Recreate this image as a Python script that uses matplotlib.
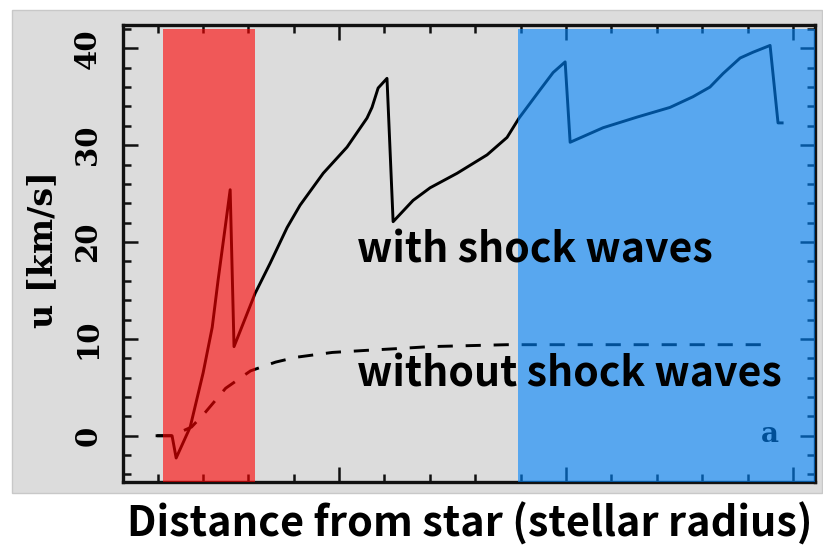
import matplotlib

matplotlib.use("Agg")
import matplotlib.pyplot as plt
from matplotlib.patches import Rectangle
from matplotlib.ticker import MultipleLocator

# 衝撃波ありの速度 (km/s)
shock_x = [1.198, 1.264, 1.282, 1.344, 1.401, 1.441, 1.467, 1.498, 1.520,
           1.537, 1.630, 1.696, 1.771, 1.828, 1.930, 2.035, 2.123, 2.145,
           2.172, 2.211, 2.238, 2.326, 2.401, 2.520, 2.652, 2.740, 2.793,
           2.885, 2.943, 2.996, 3.018, 3.163, 3.313, 3.458, 3.559, 3.634,
           3.692, 3.767, 3.824, 3.899, 3.934, 3.952]
shock_u = [0.0, 0.0, -2.3, 0.9, 6.5, 11.2, 16.1, 21.5, 25.4,
           9.2, 14.7, 17.8, 21.5, 23.8, 27.1, 29.8, 32.8, 33.9,
           35.9, 36.9, 22.1, 24.3, 25.6, 27.1, 29.0, 30.8, 32.8,
           35.7, 37.5, 38.6, 30.3, 31.8, 32.9, 33.9, 35.0, 36.0,
           37.4, 39.0, 39.6, 40.3, 32.3, 32.3]

# 衝撃波なしの速度 (km/s)
calm_x = [1.198, 1.264, 1.35, 1.41, 1.50, 1.61, 1.72, 1.81, 1.97, 2.11,
          2.26, 2.40, 2.74, 3.87]
calm_u = [0.0, 0.0, 0.9, 2.4, 4.9, 6.7, 7.6, 8.1, 8.6, 8.8,
          9.0, 9.2, 9.4, 9.4]

# 強調する領域 (stellar radius)
red_zone = (1.225, 1.630)
blue_zone = (2.79, 4.097)

yticks = [0, 10, 20, 30, 40]

fig = plt.figure(figsize=(8.23, 5.48), dpi=100, facecolor="white")
# 元画像のグレーの枠
frame = Rectangle((0.0146, 0.1004), 0.984, 0.881,
                  transform=fig.transFigure, facecolor="#dcdcdc",
                  edgecolor="#c8c8c8", linewidth=1.0, zorder=-10)
fig.add_artist(frame)

ax = fig.add_axes([0.1495, 0.1204, 0.8408, 0.834])
ax.set_facecolor("#dcdcdc")

ax.plot(shock_x, shock_u, color="black", linewidth=2.1, zorder=2,
        solid_joinstyle="round")
ax.plot(calm_x, calm_u, color="black", linewidth=2.1,
        linestyle=(0, (5.2, 4.4)), zorder=2)
ax.text(3.90, -0.6, "a", fontsize=20, family="DejaVu Serif",
        fontweight="bold", ha="center", va="baseline", color="black",
        zorder=2)

# 色付きの帯 (下の線が暗く透けるように半透明で上に重ねる)
ax.fill_between(red_zone, -4.78, 42.0, color="#ff0000", alpha=0.6,
                linewidth=0, zorder=3)
ax.fill_between(blue_zone, -4.78, 42.0, color="#0085fd", alpha=0.6,
                linewidth=0, zorder=3)

ax.set_xlim(1.048, 4.097)
ax.set_ylim(-4.78, 42.41)
ax.xaxis.set_major_locator(MultipleLocator(1.0))
ax.xaxis.set_minor_locator(MultipleLocator(0.2))
ax.set_yticks(yticks)
ax.yaxis.set_minor_locator(MultipleLocator(2))
ax.tick_params(which="both", direction="in", top=True, right=True,
               color="#111111", width=1.8)
ax.tick_params(which="major", length=11)
ax.tick_params(which="minor", length=5.5)
ax.tick_params(axis="x", labelbottom=False)
ax.tick_params(axis="y", labelrotation=90, labelsize=21, pad=15)
for lab in ax.get_yticklabels():
    lab.set_family("DejaVu Serif")
    lab.set_fontweight("bold")
    lab.set_va("center")
for sp in ax.spines.values():
    sp.set_linewidth(2.4)
    sp.set_color("#111111")

jp = ["Noto Sans CJK JP", "DejaVu Sans"]
ax.text(2.079, 17.9, "with shock waves", fontsize=29.5, fontweight="bold",
        family=jp, ha="left", va="baseline", zorder=5)
ax.text(2.079, 5.1, "without shock waves", fontsize=29.5, fontweight="bold",
        family=jp, ha="left", va="baseline", zorder=5)

fig.text(0.052, 0.544, "u [km/s]", rotation=90, fontsize=24,
         family="DejaVu Serif", fontweight="bold", ha="center", va="center")
fig.text(0.571, 0.02, "Distance from star (stellar radius)", fontsize=29.8,
         fontweight="bold", family=jp, ha="center", va="baseline")

fig.savefig("out.png", dpi=100)
